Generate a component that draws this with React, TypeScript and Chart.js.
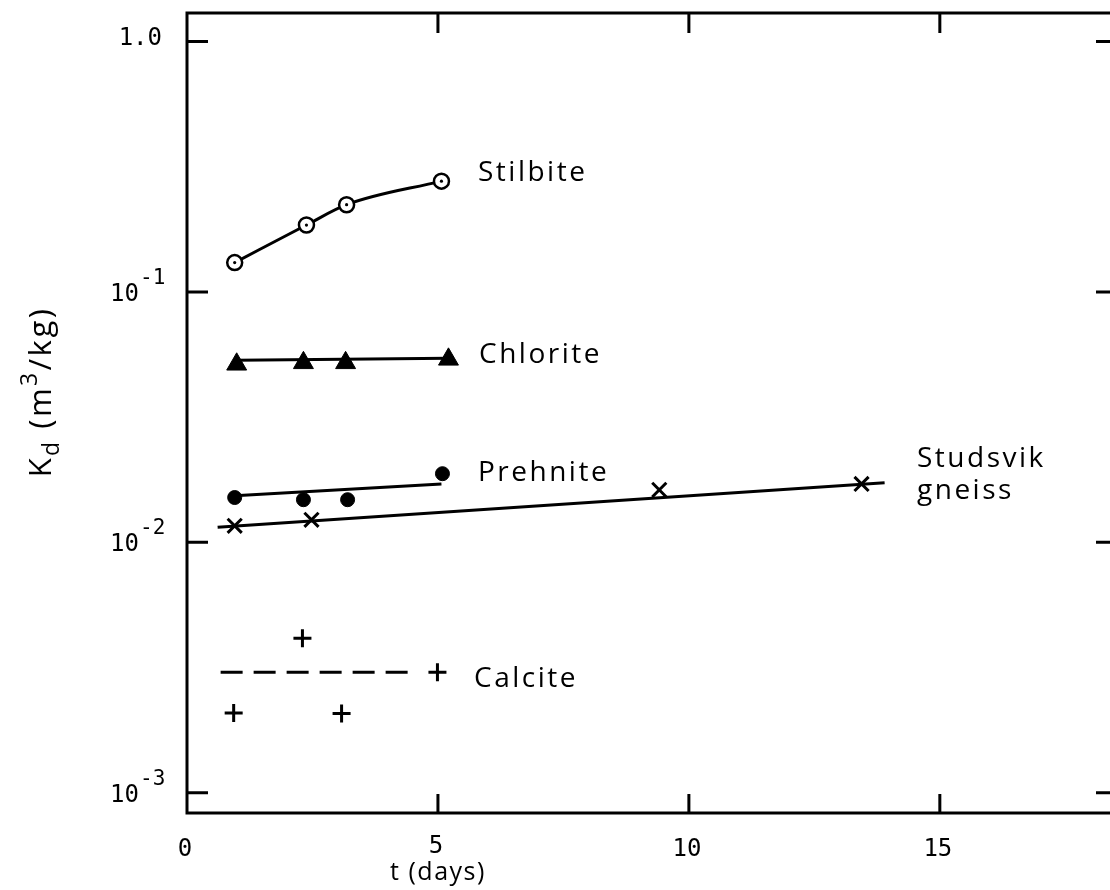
import React, { useEffect, useRef } from "react";
import { Chart, registerables } from "chart.js";

Chart.register(...registerables);

// ---- data (t in days, Kd in m3/kg) ----
const stilbiteX = [0.95, 2.38, 3.18, 5.07];
const stilbiteY = [0.131, 0.185, 0.223, 0.277];

const chloriteX = [0.99, 2.32, 3.16, 5.21];
const chloriteY = [0.0514, 0.0521, 0.0521, 0.0538];
const chloriteFitX = [0.99, 5.21];
const chloriteFitY = [0.0533, 0.0543];

const prehniteX = [0.95, 2.32, 3.2, 5.09];
const prehniteY = [0.0151, 0.0148, 0.0148, 0.0188];
const prehniteFitX = [0.95, 5.07];
const prehniteFitY = [0.01535, 0.0171];

const gneissX = [0.95, 2.48, 9.41, 13.44];
const gneissY = [0.01164, 0.0123, 0.0162, 0.0171];
const gneissFitX = [0.61, 13.9];
const gneissFitY = [0.0115, 0.0173];

const calciteX = [0.93, 2.3, 3.08, 4.99];
const calciteY = [0.00208, 0.00414, 0.00207, 0.00303];
const calciteFitX = [0.67, 4.59];
const calciteFitY = [0.00303, 0.00303];

const xTicks = [0, 5, 10, 15];
const yTicks = [0.001, 0.01, 0.1, 1];
const yTickExp = ["-3", "-2", "-1", ""];

const X_MIN = 0;
const X_MAX = 18.53;
const Y_MIN = 0.00083;
const Y_MAX = 1.3;

const MONO = '"DejaVu Sans Mono", "Liberation Mono", monospace';
const SANS = '"Open Sans", "DejaVu Sans", sans-serif';

const pts = (xs: number[], ys: number[]) => xs.map((x, i) => ({ x, y: ys[i] }));

const framePlugin = {
  id: "frame",
  afterDraw(chart: any) {
    const { ctx, chartArea: a, scales } = chart;
    const xs = scales.x;
    const ys = scales.y;
    ctx.save();
    ctx.strokeStyle = "#000";
    ctx.fillStyle = "#000";
    ctx.lineWidth = 3;
    ctx.lineCap = "butt";
    ctx.strokeRect(a.left, a.top, a.right - a.left, a.bottom - a.top);
    const tl = 21;
    ctx.beginPath();
    for (const v of yTicks) {
      const y = ys.getPixelForValue(v);
      ctx.moveTo(a.left, y);
      ctx.lineTo(a.left + tl, y);
      ctx.moveTo(a.right, y);
      ctx.lineTo(a.right - tl, y);
    }
    for (const v of xTicks) {
      if (v === 0) continue;
      const x = xs.getPixelForValue(v);
      ctx.moveTo(x, a.bottom);
      ctx.lineTo(x, a.bottom - 19);
      ctx.moveTo(x, a.top);
      ctx.lineTo(x, a.top + 20);
    }
    ctx.stroke();

    // y tick labels
    ctx.textBaseline = "alphabetic";
    yTicks.forEach((v, i) => {
      const y = ys.getPixelForValue(v);
      if (v === 1) {
        ctx.font = `24px ${MONO}`;
        ctx.textAlign = "right";
        ctx.fillText("1.0", 162, y + 3);
      } else {
        ctx.font = `24px ${MONO}`;
        ctx.textAlign = "right";
        ctx.fillText("10", 139, y + 9);
        ctx.font = `21px ${MONO}`;
        ctx.textAlign = "left";
        ctx.fillText(yTickExp[i], 140, y - 8);
      }
    });

    // x tick labels
    ctx.font = `24px ${MONO}`;
    ctx.textAlign = "center";
    for (const v of xTicks) {
      const x = xs.getPixelForValue(v) - 2;
      ctx.fillText(String(v), x, v === 5 ? 853 : 856);
    }

    // x title
    ctx.font = `25px ${SANS}`;
    (ctx as any).letterSpacing = "1.5px";
    ctx.fillText("t (days)", xs.getPixelForValue(5), 880);

    // series labels
    ctx.font = `28px ${SANS}`;
    (ctx as any).letterSpacing = "2.5px";
    ctx.textAlign = "left";
    ctx.fillText("Stilbite", 478, 181);
    ctx.fillText("Chlorite", 479, 363);
    ctx.fillText("Prehnite", 478, 481);
    ctx.fillText("Studsvik", 917, 467);
    ctx.fillText("gneiss", 917, 499);
    ctx.fillText("Calcite", 474, 687);

    // y title (rotated)
    ctx.save();
    ctx.translate(51, 392);
    ctx.rotate(-Math.PI / 2);
    (ctx as any).letterSpacing = "2.5px";
    const parts: [string, number, number][] = [
      ["K", 31, 0],
      ["d", 23, 8],
      [" (m", 31, 0],
      ["3", 23, -14],
      ["/kg)", 31, 0],
    ];
    let total = 0;
    for (const [t, s] of parts) {
      ctx.font = `${s}px ${SANS}`;
      total += ctx.measureText(t).width;
    }
    let cx = -total / 2;
    ctx.textAlign = "left";
    for (const [t, s, dy] of parts) {
      ctx.font = `${s}px ${SANS}`;
      ctx.fillText(t, cx, dy);
      cx += ctx.measureText(t).width;
    }
    ctx.restore();
    ctx.restore();
  },
};

export default function App() {
  const ref = useRef<HTMLCanvasElement>(null);
  useEffect(() => {
    const canvas = ref.current!;
    const line = (data: any, extra: any = {}) => ({
      data,
      borderColor: "#000",
      backgroundColor: "#000",
      borderWidth: 3,
      pointRadius: 0,
      showLine: true,
      fill: false,
      ...extra,
    });
    const marks = (data: any, extra: any = {}) => ({
      data,
      borderColor: "#000",
      backgroundColor: "#000",
      showLine: false,
      fill: false,
      ...extra,
    });
    const chart = new Chart(canvas, {
      type: "line",
      data: {
        datasets: [
          marks(pts(stilbiteX, stilbiteY), { pointRadius: 1.6, pointBorderWidth: 0 }),
          line(pts(stilbiteX, stilbiteY), {
            tension: 0.4,
            cubicInterpolationMode: "monotone",
            pointRadius: 7.5,
            pointBorderWidth: 2.5,
            pointBackgroundColor: "#fff",
            pointBorderColor: "#000",
          }),
          marks(pts(chloriteX, chloriteY), { pointStyle: "triangle", pointRadius: 11.5, pointBorderWidth: 1 }),
          line(pts(chloriteFitX, chloriteFitY)),
          marks(pts(prehniteX, prehniteY), { pointStyle: "circle", pointRadius: 7, pointBorderWidth: 1 }),
          line(pts(prehniteFitX, prehniteFitY)),
          marks(pts(gneissX, gneissY), { pointStyle: "crossRot", pointRadius: 10, pointBorderWidth: 3 }),
          line(pts(gneissFitX, gneissFitY)),
          marks(pts(calciteX, calciteY), { pointStyle: "cross", pointRadius: 9, pointBorderWidth: 3 }),
          line(pts(calciteFitX, calciteFitY), { borderDash: [22, 11] }),
        ],
      },
      options: {
        animation: false,
        responsive: false,
        devicePixelRatio: 1,
        layout: { padding: { left: 187, top: 10, right: 23, bottom: 77 } },
        scales: {
          x: { type: "linear", min: X_MIN, max: X_MAX, display: false },
          y: { type: "logarithmic", min: Y_MIN, max: Y_MAX, display: false },
        },
        plugins: { legend: { display: false }, tooltip: { enabled: false } },
        elements: { line: { borderCapStyle: "butt" } },
      },
      plugins: [framePlugin],
    } as any);
    return () => chart.destroy();
  }, []);
  return (
    <div
      style={{
        position: "fixed",
        left: 0,
        top: 0,
        width: 1110,
        height: 890,
        overflow: "hidden",
        background: "#fff",
      }}
    >
      <canvas ref={ref} width={1140} height={890} style={{ width: 1140, height: 890, display: "block" }} />
    </div>
  );
}
